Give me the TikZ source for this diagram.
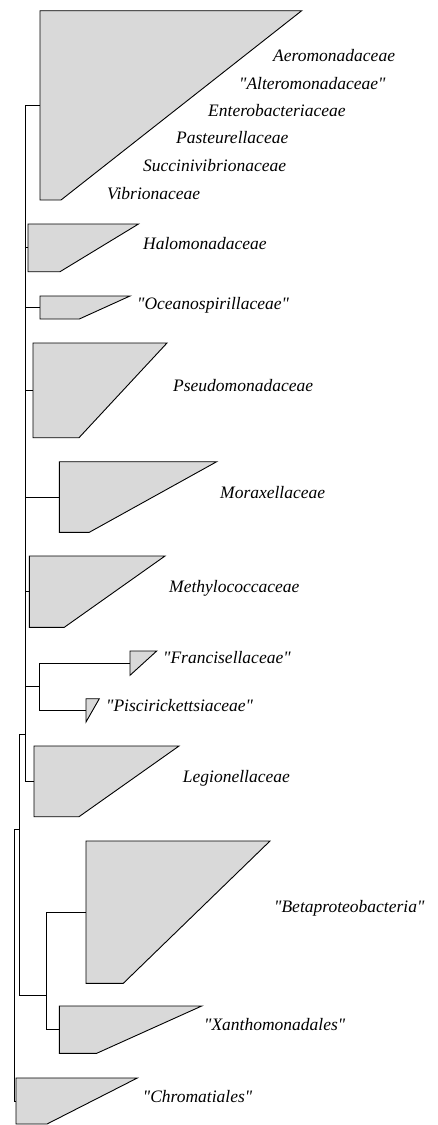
\documentclass[tikz,border=0pt]{standalone}
\usepackage{fontspec}
\setmainfont{Liberation Serif}
% a family without the TeX mapping, so that " stays a straight quote
\newfontfamily\taxonfont{Liberation Serif}
\definecolor{cladegrey}{RGB}{217,217,217}
% collapsed clade: name, x left, y top, y bottom, x top-right, x end of flat bottom
\newcommand\collapsedclade[6]{%
  \filldraw[clade] (#2,#3) -- (#5,#3) -- (#6,#4) -- (#2,#4) -- cycle;
  \coordinate (#1) at (#2,{(#3+#4)/2});
}
\begin{document}
\begin{tikzpicture}[x=1pt,y=-1pt,
  branch/.style={draw=black,line width=0.9pt},
  clade/.style={draw=black,fill=cladegrey,line width=0.9pt,line join=miter},
  taxon/.style={anchor=base west,inner sep=0pt,font=\taxonfont\fontsize{17.5}{20}\selectfont\itshape}]
\useasboundingbox (0,0) rectangle (437,1125);

% collapsed clades
\collapsedclade{ent}{40}{10.7}{200}{301.7}{61}
\collapsedclade{halo}{28}{224}{271.7}{138.5}{60}
\collapsedclade{ocean}{40}{296}{319}{130}{79.3}
\collapsedclade{pseudo}{33}{343}{437.7}{167}{79}
\collapsedclade{morax}{59.3}{461.7}{532.3}{216.7}{89.3}
\collapsedclade{methyl}{29.3}{556}{627.3}{165}{64.3}
\collapsedclade{fran}{130}{651}{675.3}{156.7}{130}
\collapsedclade{pisc}{86}{698.7}{722}{99.3}{86}
\collapsedclade{leg}{34}{746}{816.7}{179}{79}
\collapsedclade{beta}{86}{841}{983.3}{270}{123.3}
\collapsedclade{xan}{59.3}{1006}{1053.3}{201.7}{96.7}
\collapsedclade{chrom}{16}{1078}{1124}{137.3}{47}

% internal nodes
\coordinate (nF) at (39,686.7);
\coordinate (nA) at (25,734);
\coordinate (nB) at (19.3,829);
\coordinate (nC) at (46,995);
\coordinate (nR) at (14,965);

% branches
\draw[branch] (nA |- ent) -- (nA |- leg);
\foreach \c in {ent,halo,ocean,pseudo,morax,methyl,nF,leg}
  \draw[branch] (nA |- \c) -- (\c);
\draw[branch] (nF |- fran) -- (nF |- pisc);
\draw[branch] (nF |- fran) -- (fran);
\draw[branch] (nF |- pisc) -- (pisc);
\draw[branch] (nB |- nA) -- (nB |- nC);
\draw[branch] (nB |- nA) -- (nA);
\draw[branch] (nB |- nC) -- (nC);
\draw[branch] (nC |- beta) -- (nC |- xan);
\draw[branch] (nC |- beta) -- (beta);
\draw[branch] (nC |- xan) -- (xan);
\draw[branch] (nR |- nB) -- (nR |- chrom);
\draw[branch] (nR |- nB) -- (nB);
\draw[branch] (nR |- chrom) -- (chrom);

% taxon labels
\node[taxon] (l1) at (273,61.7) {Aeromonadaceae};
\node[taxon] (l2) at (239,89.3) {"Alteromonadaceae"};
\node[taxon] (l3) at (208,116) {Enterobacteriaceae};
\node[taxon] (l4) at (176,143) {Pasteurellaceae};
\node[taxon] (l5) at (143,171.5) {Succinivibrionaceae};
\node[taxon] (l6) at (107,199) {Vibrionaceae};
\node[taxon] (l7) at (143,249) {Halomonadaceae};
\node[taxon] (l8) at (137,309) {"Oceanospirillaceae"};
\node[taxon] (l9) at (173,391.7) {Pseudomonadaceae};
\node[taxon] (l10) at (220,498.3) {Moraxellaceae};
\node[taxon] (l11) at (169,592.7) {Methylococcaceae};
\node[taxon] (l12) at (163,663.3) {"Francisellaceae"};
\node[taxon] (l13) at (106,711.3) {"Piscirickettsiaceae"};
\node[taxon] (l14) at (182.7,782.3) {Legionellaceae};
\node[taxon] (l15) at (274,912.3) {"Betaproteobacteria"};
\node[taxon] (l16) at (204,1030.7) {"Xanthomonadales"};
\node[taxon] (l17) at (142.7,1102.7) {"Chromatiales"};
\end{tikzpicture}
\end{document}
